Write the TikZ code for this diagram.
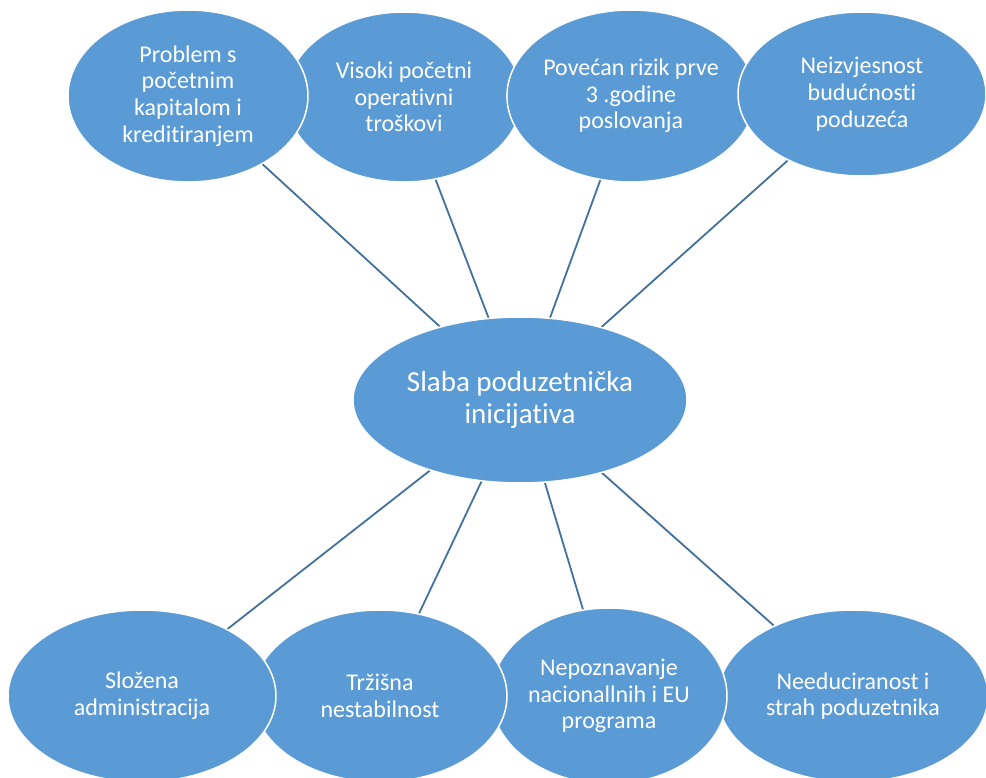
\documentclass[tikz,border=0pt]{standalone}
\usepackage{fontspec}
\setmainfont[Ligatures=NoCommon]{Carlito}
\usetikzlibrary{shapes.geometric,backgrounds}
\definecolor{ellfill}{HTML}{5B9BD5}
\definecolor{linkcol}{HTML}{41719C}
\tikzset{
  bubble/.style={ellipse, fill=ellfill, draw=white, line width=1.5pt, inner sep=0pt,
    text=white, align=center, font=\fontsize{24}{26.7}\selectfont},
  centerbubble/.style={bubble, font=\fontsize{29}{32}\selectfont},
  link/.style={draw=linkcol, line width=1.8pt}
}
\begin{document}
\begin{tikzpicture}[x=1pt,y=-1pt]
\useasboundingbox (0,0) rectangle (986,778);
% top row (drawing order 2,1,3,4)
\node[bubble, minimum width=236pt, minimum height=170pt] (t2) at (404,97) {Visoki početni\\operativni\\troškovi};
\node[bubble, minimum width=240pt, minimum height=172pt] (t1) at (188,96) {Problem s\\početnim\\kapitalom i\\kreditiranjem};
\node[bubble, minimum width=244pt, minimum height=172pt] (t3) at (631,96) {Povećan rizik prve\\3 .godine\\poslovanja};
\node[bubble, minimum width=248pt, minimum height=164pt] (t4) at (862,94) {Neizvjesnost\\budućnosti\\poduzeća};
% center
\node[centerbubble, minimum width=334pt, minimum height=166pt] (c) at (520,400) {Slaba poduzetnička\\inicijativa};
% bottom row (drawing order D,C,B,A)
\node[bubble, minimum width=270pt, minimum height=172pt] (b4) at (853,696) {Needuciranost i\\strah poduzetnika};
\node[bubble, minimum width=236pt, minimum height=176pt] (b3) at (609,696) {Nepoznavanje\\nacionallnih i EU\\programa};
\node[bubble, minimum width=254pt, minimum height=172pt] (b2) at (380,696) {Tržišna\\nestabilnost};
\node[bubble, minimum width=268pt, minimum height=172pt] (b1) at (142,696) {Složena\\administracija};
\begin{scope}[on background layer]
\foreach \n in {t1,t2,t3,t4,b1,b2,b3,b4}{
  \draw[link] (c.center) -- (\n.center);
}
\end{scope}
\end{tikzpicture}
\end{document}
